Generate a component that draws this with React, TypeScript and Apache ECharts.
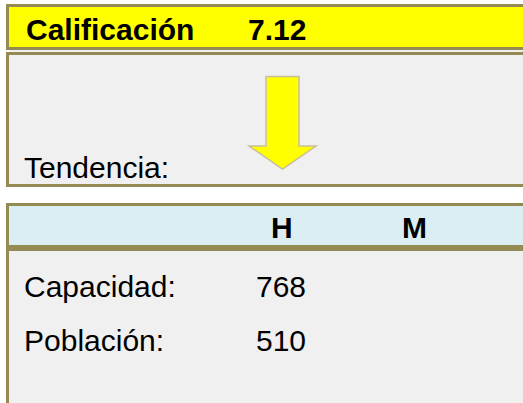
import React, { useEffect, useRef } from "react";
import * as echarts from "echarts";

// ---- data ----
const titleLabel = "Calificación";
const scoreValue = "7.12";
const trendLabel = "Tendencia:";
const trendDirection: "down" | "up" = "down";
const columnHeaders = ["H", "M"];
const rowLabels = ["Capacidad:", "Población:"];
const hValues: (number | null)[] = [768, 510];
const mValues: (number | null)[] = [null, null];

const OLIVE = "#948a54";
const YELLOW = "#ffff00";
const GRAY = "#f0f0f0";
const BLUE = "#daeef3";
const FONT = "'Liberation Sans', Arial, Helvetica, sans-serif";
const FS = 30;

function txt(text: string, x: number, baseline: number, bold: boolean) {
  return {
    type: "text",
    x,
    y: baseline - 10,
    style: {
      text,
      fill: "#000000",
      font: `${bold ? "bold " : ""}${FS}px ${FONT}`,
      align: "left",
      verticalAlign: "middle",
    },
  };
}

export default function App() {
  const ref = useRef<HTMLDivElement>(null);
  useEffect(() => {
    if (!ref.current) return;
    const chart = echarts.init(ref.current, undefined, { renderer: "svg" });
    const rect = (x: number, y: number, w: number, h: number, fill: string) => ({
      type: "rect",
      shape: { x, y, width: w, height: h },
      style: { fill },
    });
    const colX = [271, 402];
    const valX = [256, 387];
    const rowBase = [296, 350];
    const arrowPts =
      trendDirection === "down"
        ? [[266, 76.5], [299, 76.5], [299, 146], [316, 146], [282.5, 169], [249, 146], [266, 146]]
        : [[266, 169], [299, 169], [299, 99.5], [316, 99.5], [282.5, 76.5], [249, 99.5], [266, 99.5]];
    const elements: any[] = [
      rect(6, 4, 524, 46, OLIVE),
      rect(9, 7, 521, 40, YELLOW),
      rect(9, 50, 521, 2, GRAY),
      rect(6, 52, 524, 135, OLIVE),
      rect(9, 55, 521, 129, GRAY),
      rect(6, 203, 524, 200, OLIVE),
      rect(9, 206, 521, 39, BLUE),
      rect(9, 251, 521, 152, GRAY),
      {
        type: "polygon",
        shape: { points: arrowPts },
        style: { fill: YELLOW, stroke: "#c8bf9a", lineWidth: 1.5 },
      },
      txt(titleLabel, 26, 39, true),
      txt(scoreValue, 248, 39, true),
      txt(trendLabel, 24, 177, false),
    ];
    columnHeaders.forEach((h, i) => elements.push(txt(h, colX[i], 237, true)));
    rowLabels.forEach((lab, r) => {
      elements.push(txt(lab, 24, rowBase[r], false));
      const hv = hValues[r];
      if (hv !== null) elements.push(txt(String(hv), valX[0], rowBase[r], false));
      const mv = mValues[r];
      if (mv !== null) elements.push(txt(String(mv), valX[1], rowBase[r], false));
    });
    chart.setOption({
      animation: false,
      backgroundColor: "#ffffff",
      graphic: { elements },
    });
    return () => chart.dispose();
  }, []);
  return (
    <div
      ref={ref}
      style={{ position: "absolute", left: 0, top: 0, width: 523, height: 403 }}
    />
  );
}
